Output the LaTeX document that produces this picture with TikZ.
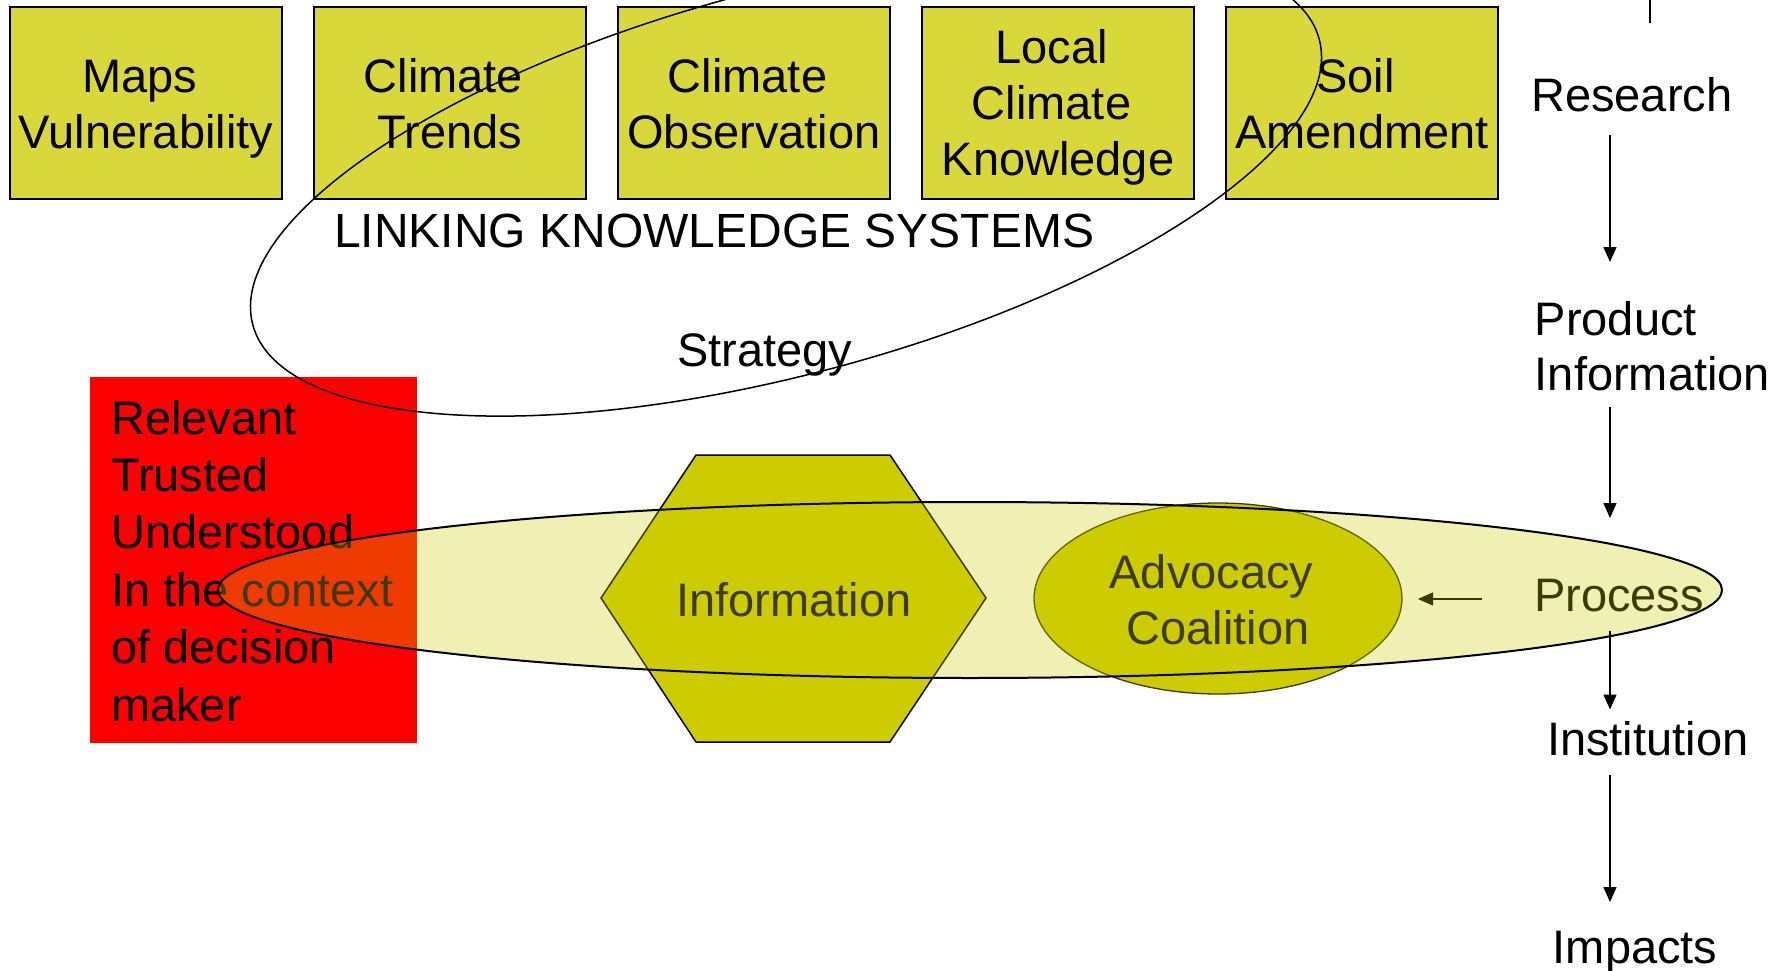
\documentclass[tikz,border=0pt]{standalone}
\usepackage{fontspec}
\setmainfont{Liberation Sans}
\usetikzlibrary{arrows.meta}
\definecolor{boxfill}{RGB}{217,216,58}
\definecolor{hexfill}{RGB}{204,204,0}
\definecolor{advline}{RGB}{60,60,0}
\definecolor{redbox}{RGB}{255,0,0}
\begin{document}
\begin{tikzpicture}[x=1pt,y=-1pt,
  kbox/.style={draw=black, line width=2pt, fill=boxfill, minimum width=272pt, minimum height=192pt, inner sep=0pt},
  lbl/.style={inner sep=0pt, font={\fontsize{47}{56}\selectfont}},
  arr/.style={line width=1.3pt, -{Triangle[length=15pt,width=13pt]}},
]
\useasboundingbox (0,0) rectangle (1786,971);
\clip (0,0) rectangle (1786,971);

% knowledge boxes
\node[kbox] (b1) at (146,103) {};
\node[kbox] (b2) at (450,103) {};
\node[kbox] (b3) at (754,103) {};
\node[kbox] (b4) at (1058,103) {};
\node[kbox] (b5) at (1362,103) {};
\node[lbl, anchor=base] (t1) at (146,92.5) {\begin{tabular}[t]{@{}c@{}}Maps\kern13pt\\Vulnerability\end{tabular}};
\node[lbl, anchor=base] (t2) at (450,92.5) {\begin{tabular}[t]{@{}c@{}}Climate\kern13pt\\Trends\end{tabular}};
\node[lbl, anchor=base] (t3) at (754,92.5) {\begin{tabular}[t]{@{}c@{}}Climate\kern13pt\\Observation\end{tabular}};
\node[lbl, anchor=base] (t4) at (1058,64) {\begin{tabular}[t]{@{}c@{}}Local\kern13pt\\Climate\kern13pt\\Knowledge\end{tabular}};
\node[lbl, anchor=base] (t5) at (1362,92.5) {\begin{tabular}[t]{@{}c@{}}Soil\kern13pt\\Amendment\end{tabular}};

\node[lbl, anchor=base west, font={\fontsize{48}{56}\selectfont}] (lks) at (334,247) {LINKING KNOWLEDGE SYSTEMS};
\node[lbl, anchor=base west] (strat) at (677,366.7) {Strategy};

% red box
\fill[redbox] (90,377) rectangle (417,743);
\node[lbl, anchor=base west, font={\fontsize{47}{57.4}\selectfont}] (rel) at (111,434)
  {\begin{tabular}[t]{@{}l@{}}Relevant\\Trusted\\Understood\\In the context\\of decision\\maker\end{tabular}};

% loop
\draw[line width=1.5pt, rotate around={15:(786,182)}] (786,182) ellipse [x radius=552pt, y radius=192pt];

% hexagon and advocacy
\draw[line width=1.5pt, fill=hexfill] (601,598) -- (696,455) -- (890,455) -- (986,598) -- (890,742) -- (696,742) -- cycle;
\draw[line width=1.3pt, draw=advline, fill=hexfill] (1218,598.5) ellipse [x radius=184pt, y radius=95.5pt];
\node[lbl, anchor=base] (info) at (794,616.5) {Information};
\node[lbl, anchor=base] (adv) at (1218,588) {\begin{tabular}[t]{@{}c@{}}Advocacy\kern13pt\\Coalition\end{tabular}};
\node[lbl, anchor=base west] (proc) at (1534,611.5) {Process};
\coordinate (pa) at (1481.7,599);
\coordinate (pb) at (1418,599);
\draw[arr] (pa) -- (pb);

% translucent process ellipse
\draw[line width=2pt, fill=hexfill, fill opacity=0.29] (970,590) ellipse [x radius=752pt, y radius=88pt];

% right column
\coordinate (top1) at (1650,0);
\coordinate (top2) at (1650,22.7);
\draw[line width=1.3pt] (top1) -- (top2);
\node[lbl, anchor=base west] (res) at (1531,111.7) {Research};
\node[lbl, anchor=base west, font={\fontsize{47}{55}\selectfont}] (prod) at (1534.6,335)
  {\begin{tabular}[t]{@{}l@{}}Product\\Information\end{tabular}};
\node[lbl, anchor=base west] (inst) at (1547,755) {Institution};
\node[lbl, anchor=base west] (imp) at (1552.7,963) {Impacts};
\coordinate (a1s) at (1610,135);
\coordinate (a1e) at (1610,262);
\coordinate (a2s) at (1610,407);
\coordinate (a2e) at (1610,518);
\coordinate (a3s) at (1610,631);
\coordinate (a3e) at (1610,709.5);
\coordinate (a4s) at (1610,775);
\coordinate (a4e) at (1610,902);
\draw[arr] (a1s) -- (a1e);
\draw[arr] (a2s) -- (a2e);
\draw[arr] (a3s) -- (a3e);
\draw[arr] (a4s) -- (a4e);
\end{tikzpicture}
\end{document}
